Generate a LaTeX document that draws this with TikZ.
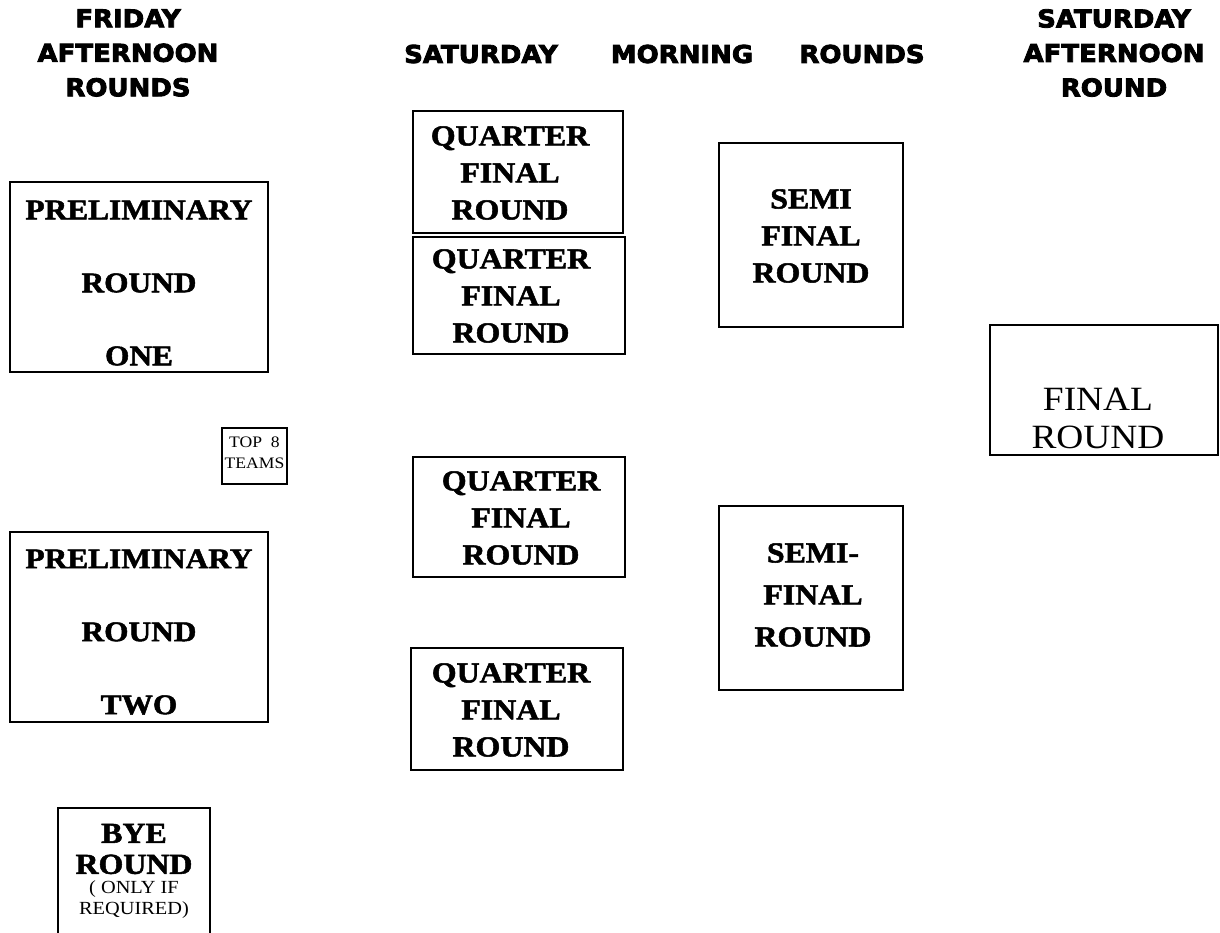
\documentclass[tikz,border=0pt]{standalone}
\usepackage{fontspec}
\setmainfont[FakeStretch=1.1, BoldFeatures={FakeBold=1.8}]{Liberation Serif}
\newfontfamily\hdrfont[FakeStretch=1.06, BoldFeatures={FakeBold=3.4}]{DejaVu Sans}
\begin{document}
\begin{tikzpicture}[x=1pt,y=-1pt,
  box/.style={draw, line width=1.8pt, inner sep=0pt},
  hdr/.style={font=\hdrfont\bfseries\fontsize{24.5}{34.5}\selectfont, align=center, inner sep=0pt},
  big/.style={font=\bfseries\fontsize{29}{37}\selectfont, align=center, inner sep=0pt},
  wide/.style={font=\bfseries\fontsize{28.5}{73}\selectfont, align=center, inner sep=0pt},
  fin/.style={font=\fontsize{34}{38}\selectfont, align=center, inner sep=0pt},
  small/.style={font=\fontsize{16}{21}\selectfont, align=center, inner sep=0pt},
  tiny/.style={font=\fontsize{18.5}{21}\selectfont, align=center, inner sep=0pt}]
\useasboundingbox (0,0) rectangle (1220,932);

% headers
\node[hdr] (h1) at (128,53) {FRIDAY\\AFTERNOON\\ROUNDS};
\node[hdr] (h2) at (481,54) {SATURDAY};
\node[hdr] (h3) at (682,54) {MORNING};
\node[hdr] (h4) at (862,54) {ROUNDS};
\node[hdr] (h5) at (1114,53) {SATURDAY\\AFTERNOON\\ROUND};

% boxes
\node[box, minimum width=258, minimum height=190] (pre1) at (139,277) {};
\node[wide] (pre1t) at (139,283) {PRELIMINARY\\ROUND\\ONE};
\node[box, minimum width=258, minimum height=190] (pre2) at (139,627) {};
\node[wide] (pre2t) at (139,632) {PRELIMINARY\\ROUND\\TWO};

\node[box, line width=1.4pt, minimum width=65, minimum height=56] (top8) at (254.5,456) {};
\node[small] (top8t) at (254.5,453) {TOP\ \ 8\\TEAMS};

\node[minimum width=152, minimum height=140, inner sep=0pt] (bye) at (134,878) {};
\draw[line width=1.8pt] (bye.south west) -- (bye.north west) -- (bye.north east) -- (bye.south east);
\node[big, font=\bfseries\fontsize{29}{31}\selectfont] (byet) at (134,849) {BYE\\ROUND};
\node[tiny] (byes) at (134,900) {( ONLY IF\\REQUIRED)};

\node[box, minimum width=210, minimum height=122] (qf1) at (518,172) {};
\node[big] (qf1t) at (510,173) {QUARTER\\FINAL\\ROUND};
\node[box, minimum width=212, minimum height=117] (qf2) at (519,295.5) {};
\node[big] (qf2t) at (511,296) {QUARTER\\FINAL\\ROUND};
\node[box, minimum width=212, minimum height=120] (qf3) at (519,517) {};
\node[big] (qf3t) at (521,518) {QUARTER\\FINAL\\ROUND};
\node[box, minimum width=212, minimum height=122] (qf4) at (517,709) {};
\node[big] (qf4t) at (511,710) {QUARTER\\FINAL\\ROUND};

\node[box, minimum width=184, minimum height=184] (sf1) at (811,235) {};
\node[big] (sf1t) at (811,236) {SEMI\\FINAL\\ROUND};
\node[box, minimum width=184, minimum height=184] (sf2) at (811,598) {};
\node[big, font=\bfseries\fontsize{29}{42}\selectfont] (sf2t) at (813,595) {SEMI-\\FINAL\\ROUND};

\node[box, minimum width=228, minimum height=130] (final) at (1104,390) {};
\node[fin] (finalt) at (1098,418) {FINAL\\ROUND};
\end{tikzpicture}
\end{document}
